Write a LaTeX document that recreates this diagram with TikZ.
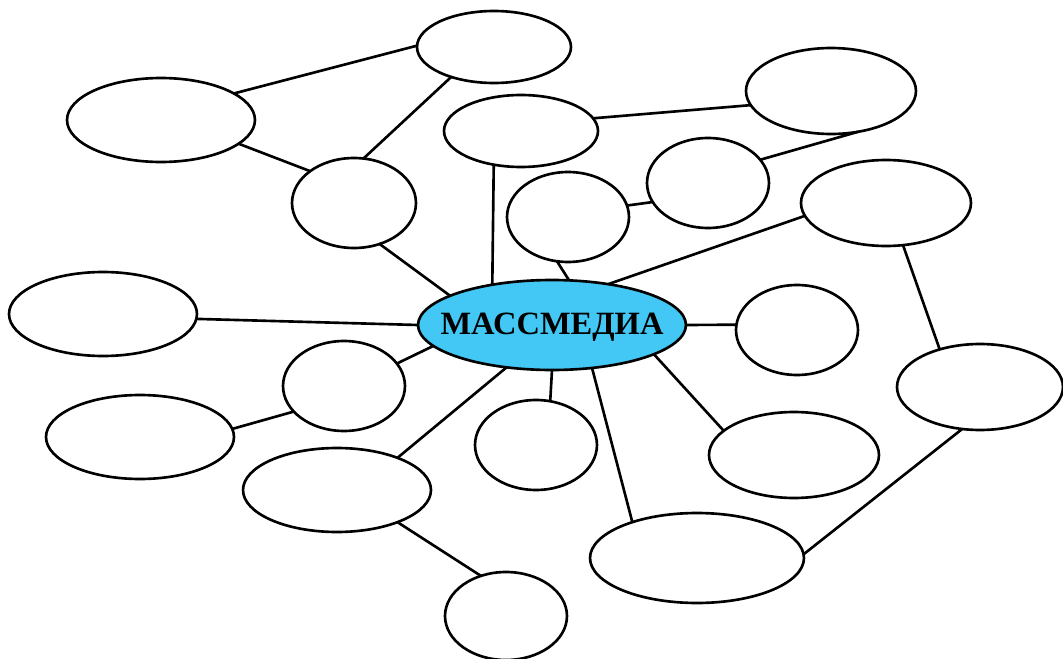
\documentclass[tikz,border=0pt]{standalone}
\usepackage{fontspec}
\setmainfont{Liberation Serif}
\usetikzlibrary{shapes.geometric}
\definecolor{hub}{RGB}{67,200,245}
\tikzset{
  bub/.style={ellipse, draw=black, line width=1.5pt, fill=white, inner sep=0pt, outer sep=0pt,
              minimum width=#1},
  link/.style={line width=1.5pt, black},
}
\begin{document}
\begin{tikzpicture}[x=0.02cm, y=-0.02cm]
\useasboundingbox (0,0) rectangle (1063,659);
% outer bubbles
\node[bub=3.08cm, minimum height=1.44cm] (n1)  at (494,47)  {};
\node[bub=3.76cm, minimum height=1.68cm] (n2)  at (161,120) {};
\node[bub=3.08cm, minimum height=1.44cm] (n3)  at (521,131) {};
\node[bub=3.40cm, minimum height=1.72cm] (n4)  at (831,91)  {};
\node[bub=2.48cm, minimum height=1.80cm] (n5)  at (354,203) {};
\node[bub=2.44cm, minimum height=1.80cm] (n6)  at (568,217) {};
\node[bub=2.44cm, minimum height=1.80cm] (n7)  at (708,183) {};
\node[bub=3.40cm, minimum height=1.72cm] (n8)  at (886,203) {};
\node[bub=3.76cm, minimum height=1.68cm] (n9)  at (103,314) {};
\node[bub=2.44cm, minimum height=1.80cm] (n11) at (797,330) {};
\node[bub=3.32cm, minimum height=1.72cm] (n12) at (980,387) {};
\node[bub=2.44cm, minimum height=1.80cm] (n13) at (344,386) {};
\node[bub=3.76cm, minimum height=1.68cm] (n14) at (140,437) {};
\node[bub=3.76cm, minimum height=1.68cm] (n15) at (337,490) {};
\node[bub=2.44cm, minimum height=1.80cm] (n16) at (536,445) {};
\node[bub=3.40cm, minimum height=1.72cm] (n17) at (794,455) {};
\node[bub=4.28cm, minimum height=1.80cm] (n18) at (697,558) {};
\node[bub=2.44cm, minimum height=1.76cm] (n19) at (506,616) {};
% central bubble and its title
\node[bub=5.36cm, minimum height=1.80cm, fill=hub] (hub) at (552,325) {};
\node[font=\bfseries\fontsize{18.5}{20}\selectfont, inner sep=0pt] (hubtxt) at ([yshift=-0.05cm]hub.center) {МАССМЕДИА};
% connectors
\draw[link] (n2.20.5)   -- (n1.179.2);
\draw[link] (n2.-17.1)  -- (n5.144.8);
\draw[link] (n5.78.7)   -- (n1.215.5);
\draw[link] (n5.-58.1)  -- (hub.164.4);
\draw[link] (n3.231.5)  -- (hub.146);
\draw[link] (n3.10.1)   -- (n4.190.5);
\draw[link] (n6.11.1)   -- (n7.199.1);
\draw[link] (n7.24.8)   -- (n4.-56);
\draw[link] (n6.256.8)  -- (hub.69.3);
\draw[link] (hub.36.4)  -- (n8.189.1);
\draw[link] (n8.-68.9)  -- (n12.137.2);
\draw[link] (n9.-3.6)   -- (hub.180.4);
\draw[link] (hub.0)     -- (n11.175.3);
\draw[link] (n13.23.1)  -- (hub.190);
\draw[link] (n14.5.5)   -- (n13.207.9);
\draw[link] (n15.28)    -- (hub.223.1);
\draw[link] (hub.270)   -- (n16.72.3);
\draw[link] (hub.-16.2) -- (n17.161.1);
\draw[link] (hub.-47.7) -- (n18.151);
\draw[link] (n18.2.6)   -- (n12.247.8);
\draw[link] (n15.-28.9) -- (n19.122.1);
\end{tikzpicture}
\end{document}
